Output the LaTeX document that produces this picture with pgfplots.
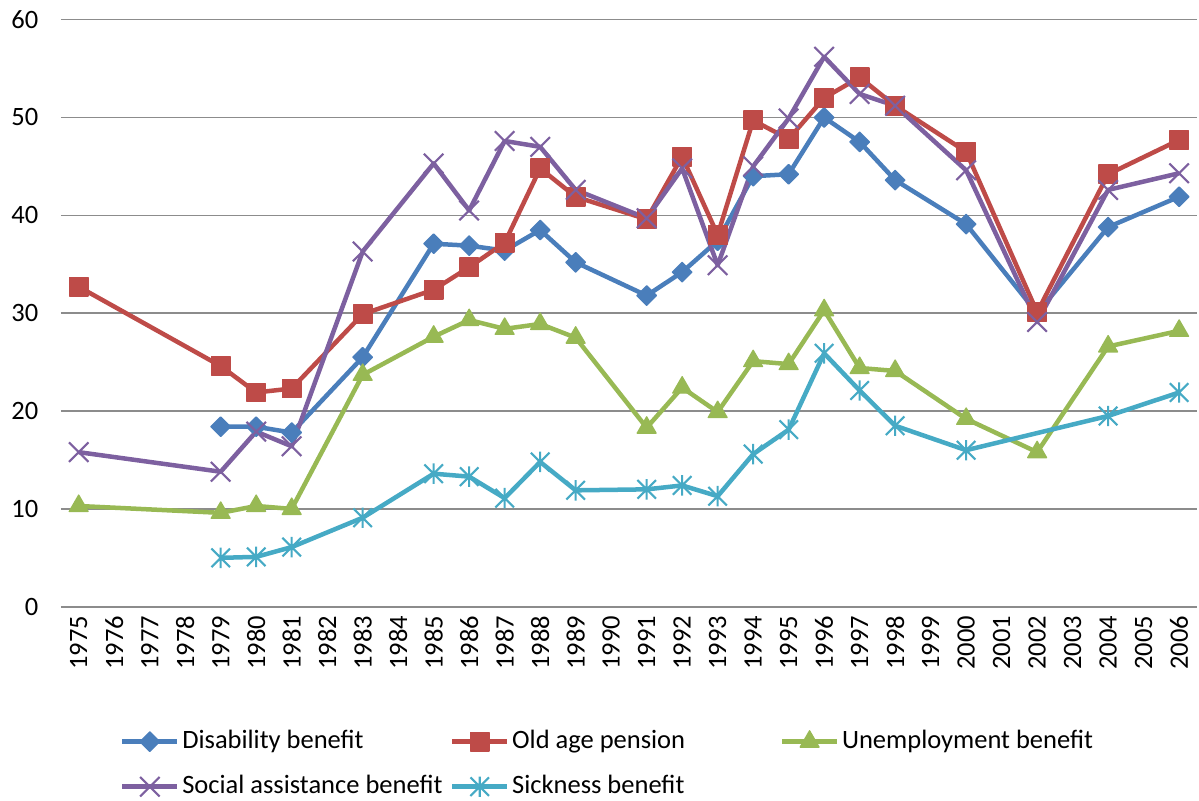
\documentclass[border=0pt]{standalone}
\usepackage{fontspec}
\setmainfont{Carlito}
\usepackage{pgfplots}
\pgfplotsset{compat=1.18}
\usetikzlibrary{plotmarks}
\definecolor{cBlue}{HTML}{4A7EBB}
\definecolor{cRed}{HTML}{BE4B48}
\definecolor{cGreen}{HTML}{98B954}
\definecolor{cPurple}{HTML}{7D60A0}
\definecolor{cCyan}{HTML}{46AAC5}
\definecolor{cGrid}{HTML}{8C8C8C}
\pgfdeclareplotmark{xstar}{%
  \pgfpathmoveto{\pgfqpoint{-\pgfplotmarksize}{-\pgfplotmarksize}}%
  \pgfpathlineto{\pgfqpoint{\pgfplotmarksize}{\pgfplotmarksize}}%
  \pgfpathmoveto{\pgfqpoint{-\pgfplotmarksize}{\pgfplotmarksize}}%
  \pgfpathlineto{\pgfqpoint{\pgfplotmarksize}{-\pgfplotmarksize}}%
  \pgfpathmoveto{\pgfqpoint{0pt}{1.1\pgfplotmarksize}}%
  \pgfpathlineto{\pgfqpoint{0pt}{-1.1\pgfplotmarksize}}%
  \pgfusepathqstroke}
\begin{document}
\begin{tikzpicture}
\begin{axis}[
  scale only axis, width=428.7pt, height=221.6pt,
  xmin=1974.5, xmax=2006.5, ymin=0, ymax=60,
  xtick={1975,...,2006}, ytick={0,10,...,60},
  ymajorgrids, grid style={cGrid, line width=0.6pt},
  axis line style={draw=none},
  major tick length=0pt,
  clip=false,
  /pgf/number format/assume math mode=true,
  /pgf/number format/1000 sep={},
  tick label style={font=\fontsize{10}{12}\selectfont, text=black},
  xticklabel style={rotate=90, anchor=east},
  yticklabel style={xshift=-5pt},
  legend columns=3,
  legend style={at={(0.052,-0.2094)}, anchor=north west, draw=none, fill=none,
    inner sep=0pt, outer sep=0pt, column sep=1pt, row sep=8pt,
    nodes={inner sep=0pt, text height=7pt, text depth=2pt, font=\fontsize{10}{12}\selectfont}},
  legend cell align=left,
  legend image code/.code={%
    \draw[mark repeat=2, mark phase=2, #1] plot coordinates {(0pt,0pt) (10.4pt,0pt) (20.8pt,0pt)};},
  every axis plot/.append style={line width=1.7pt, line join=round},
]
\addplot[cBlue, mark=square*, mark size=2.6pt, mark options={solid, rotate=45, fill=cBlue, draw=cBlue, line width=0.5pt}] coordinates {
(1979,18.4)(1980,18.4)(1981,17.8)(1983,25.5)(1985,37.1)(1986,36.9)(1987,36.4)(1988,38.5)(1989,35.2)(1991,31.8)(1992,34.2)(1993,37.4)(1994,44.0)(1995,44.2)(1996,50.0)(1997,47.5)(1998,43.6)(2000,39.1)(2002,30.0)(2004,38.8)(2006,41.9)};
\addlegendentry{\makebox[100pt][l]{Disability benefit}}
\addplot[cRed, mark=square*, mark size=3.5pt, mark options={solid, fill=cRed, draw=cRed, line width=0.5pt}] coordinates {
(1975,32.7)(1979,24.6)(1980,21.9)(1981,22.3)(1983,29.9)(1985,32.4)(1986,34.7)(1987,37.2)(1988,44.8)(1989,41.9)(1991,39.6)(1992,46.0)(1993,38.0)(1994,49.7)(1995,47.8)(1996,52.0)(1997,54.1)(1998,51.2)(2000,46.5)(2002,30.1)(2004,44.2)(2006,47.7)};
\addlegendentry{\makebox[100pt][l]{Old age pension}}
\addplot[cGreen, mark=triangle*, mark size=4.1pt, mark options={solid, fill=cGreen, draw=cGreen, line width=0.5pt}] coordinates {
(1975,10.3)(1979,9.6)(1980,10.3)(1981,10.0)(1983,23.7)(1985,27.6)(1986,29.3)(1987,28.4)(1988,28.9)(1989,27.5)(1991,18.3)(1992,22.4)(1993,19.9)(1994,25.1)(1995,24.8)(1996,30.3)(1997,24.4)(1998,24.1)(2000,19.2)(2002,15.8)(2004,26.6)(2006,28.2)};
\addlegendentry{\makebox[100pt][l]{Unemployment benefit}}
\addplot[cPurple, mark=x, mark size=5.2pt, mark options={solid, draw=cPurple, line width=0.8pt}] coordinates {
(1975,15.8)(1979,13.8)(1980,17.9)(1981,16.4)(1983,36.3)(1985,45.3)(1986,40.5)(1987,47.6)(1988,47.0)(1989,42.6)(1991,39.7)(1992,44.8)(1993,34.9)(1994,45.0)(1995,49.9)(1996,56.2)(1997,52.4)(1998,51.2)(2000,44.6)(2002,29.1)(2004,42.6)(2006,44.3)};
\addlegendentry{\makebox[100pt][l]{Social assistance benefit}}
\addplot[cCyan, mark=xstar, mark size=3.5pt, mark options={solid, draw=cCyan, line width=0.8pt}] coordinates {
(1979,5.0)(1980,5.1)(1981,6.1)(1983,9.1)(1985,13.6)(1986,13.3)(1987,11.1)(1988,14.8)(1989,11.9)(1991,12.0)(1992,12.4)(1993,11.3)(1994,15.6)(1995,18.1)(1996,25.9)(1997,22.1)(1998,18.5)(2000,16.0)(2004,19.5)(2006,21.9)};
\addlegendentry{\makebox[100pt][l]{Sickness benefit}}
\end{axis}
\pgfresetboundingbox
\path[use as bounding box] (-23pt,-73.2pt) rectangle (429.5pt,229.0pt);
\end{tikzpicture}
\end{document}
